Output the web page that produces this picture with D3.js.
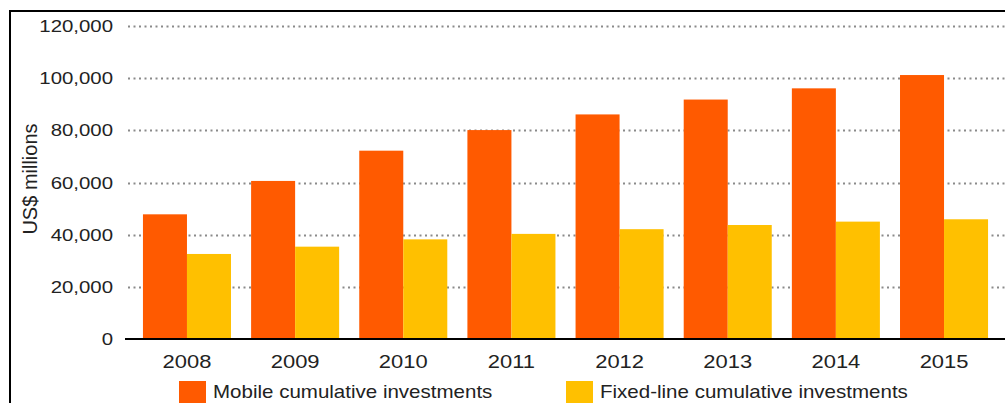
<!DOCTYPE html>
<html>
<head>
<meta charset="utf-8">
<script src="https://cdn.jsdelivr.net/npm/d3@7/dist/d3.min.js"></script>
<style>
  html, body { margin: 0; padding: 0; background: #fff; }
  svg { display: block; }
  text { font-family: "Liberation Sans", Arial, Helvetica, sans-serif; fill: #222; }
</style>
</head>
<body>
<svg id="chart" width="1005" height="403"></svg>
<script>
// Cumulative network investments, US$ millions
const years = ["2008", "2009", "2010", "2011", "2012", "2013", "2014", "2015"];
const mobile = [47800, 60600, 72200, 80100, 86100, 91800, 96100, 101200];
const fixedLine = [32600, 35400, 38200, 40300, 42100, 43700, 45000, 45900];
const yTicks = [0, 20000, 40000, 60000, 80000, 100000, 120000];
const seriesNames = ["Mobile cumulative investments", "Fixed-line cumulative investments"];
const seriesColors = ["#ff5a00", "#ffc000"];
const yTitle = "US$ millions";

const svg = d3.select("#chart");
const W = 1005, H = 403;

// outer frame
svg.append("rect")
  .attr("x", 10).attr("y", 11)
  .attr("width", W).attr("height", H)
  .attr("fill", "none").attr("stroke", "#000").attr("stroke-width", 2);

const x0 = d3.scaleBand().domain(years).range([125, 1006])
  .paddingInner(0.186).paddingOuter(0.166);
const x1 = d3.scaleBand().domain([0, 1]).range([0, x0.bandwidth()]);
const y = d3.scaleLinear().domain([0, 120000]).range([339, 26]);

const fmt = d3.format(",");

// dotted gridlines
svg.append("g").selectAll("line")
  .data(yTicks.filter(d => d > 0))
  .join("line")
  .attr("x1", 128).attr("x2", W)
  .attr("y1", d => Math.round(y(d)) + 0.5).attr("y2", d => Math.round(y(d)) + 0.5)
  .attr("stroke", "#8a8a8a").attr("stroke-width", 2)
  .attr("stroke-dasharray", "2 3.5");

// y tick labels
svg.append("g").selectAll("text")
  .data(yTicks)
  .join("text")
  .attr("transform", d => `translate(113,${y(d)}) scale(1.2,1)`)
  .attr("text-anchor", "end")
  .attr("dy", "0.36em")
  .attr("font-size", 17)
  .text(d => fmt(d));

// bars
const rows = years.map((yr, i) => ({ year: yr, values: [mobile[i], fixedLine[i]] }));
const groups = svg.append("g").selectAll("g")
  .data(rows)
  .join("g")
  .attr("transform", d => `translate(${x0(d.year)},0)`);
groups.selectAll("rect")
  .data(d => d.values.map((v, k) => ({ k, v })))
  .join("rect")
  .attr("x", d => x1(d.k))
  .attr("width", x1.bandwidth())
  .attr("y", d => y(d.v))
  .attr("height", d => y(0) - y(d.v))
  .attr("fill", d => seriesColors[d.k]);

// baseline
svg.append("line")
  .attr("x1", 125).attr("x2", W)
  .attr("y1", y(0)).attr("y2", y(0))
  .attr("stroke", "#000").attr("stroke-width", 2);

// year labels
svg.append("g").selectAll("text")
  .data(years)
  .join("text")
  .attr("transform", d => `translate(${x0(d) + x0.bandwidth() / 2},368) scale(1.22,1)`)
  .attr("text-anchor", "middle")
  .attr("font-size", 18)
  .text(d => d);

// y axis title
svg.append("text")
  .attr("transform", "translate(37,179) rotate(-90)")
  .attr("text-anchor", "middle")
  .attr("font-size", 20)
  .text(yTitle);

// legend
const legendX = [179, 566];
const legend = svg.append("g").selectAll("g")
  .data(seriesNames)
  .join("g")
  .attr("transform", (d, i) => `translate(${legendX[i]},0)`);
legend.append("rect")
  .attr("x", 0).attr("y", 381)
  .attr("width", 27).attr("height", 30)
  .attr("fill", (d, i) => seriesColors[i]);
legend.append("text")
  .attr("transform", "translate(34,398) scale(1.14,1)")
  .attr("font-size", 18)
  .text(d => d);
</script>
</body>
</html>
